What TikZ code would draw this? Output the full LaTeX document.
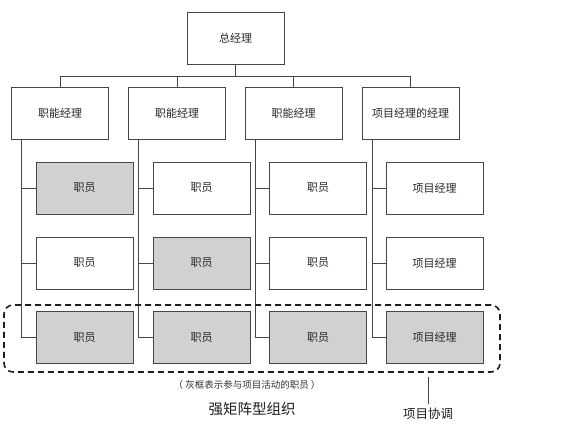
\documentclass[tikz,border=0pt]{standalone}
\usepackage{fontspec}
\setmainfont{Noto Sans CJK SC}
\begin{document}
\begin{tikzpicture}[x=1pt,y=-1pt,
  box/.style={draw=black!72,line width=0.9pt,fill=white,minimum width=97pt,minimum height=52pt,inner sep=0pt,outer sep=0pt,font=\fontsize{11}{13}\selectfont,text=black!85},
  gbox/.style={box,fill=black!18},
  conn/.style={draw=black!72,line width=0.9pt}]
\useasboundingbox[fill=white] (0,0) rectangle (570,431);
% top
\node[box] (top) at (235.5,38.5) {总经理};
\coordinate (bus) at (0,76);
\node[box] (m1) at (60,113) {职能经理};
\node[box] (m2) at (177,113) {职能经理};
\node[box] (m3) at (293.5,113) {职能经理};
\node[box] (m4) at (410.5,113) {项目经理的经理};
\foreach \i in {1,...,4}{\draw[conn] (top.south) -- (top.south |- bus) -| (m\i.north);}
% staff
\node[gbox] (s11) at (84.5,188) {职员};
\node[box]  (s12) at (84.5,263) {职员};
\node[gbox] (s13) at (84.5,337.5) {职员};
\node[box]  (s21) at (201.5,188) {职员};
\node[gbox] (s22) at (201.5,263) {职员};
\node[gbox] (s23) at (201.5,337.5) {职员};
\node[box]  (s31) at (318,188) {职员};
\node[box]  (s32) at (318,263) {职员};
\node[gbox] (s33) at (318,337.5) {职员};
\node[box]  (s41) at (434.5,188) {项目经理};
\node[box]  (s42) at (434.5,263) {项目经理};
\node[gbox] (s43) at (434.5,337.5) {项目经理};
\foreach \i in {1,...,4}{
  \coordinate (v\i) at ([xshift=10pt]m\i.south west);
  \draw[conn] (v\i) |- (s\i3.west);
  \draw[conn] (s\i1.west) -- (s\i1.west -| v\i);
  \draw[conn] (s\i2.west) -- (s\i2.west -| v\i);
}
% group
\node[draw=black!88,line width=1.6pt,dash pattern=on 6pt off 4pt,rounded corners=9pt,minimum width=496pt,minimum height=67pt,inner sep=0pt] (grp) at (252,338.5) {};
\node[font=\fontsize{9.5}{11}\selectfont,text=black!80] (note) at (247,385) {（ 灰框表示参与项目活动的职员 ）};
\node[font=\fontsize{14.5}{17}\selectfont,text=black!88] (title) at (252,409) {强矩阵型组织};
\node[font=\fontsize{12.5}{15}\selectfont,text=black!88,anchor=north,inner sep=1pt] (coord) at (428,407) {项目协调};
\draw[conn] ([yshift=-4pt]grp.south -| coord.north) -- ([yshift=3pt]coord.north);
\end{tikzpicture}
\end{document}
